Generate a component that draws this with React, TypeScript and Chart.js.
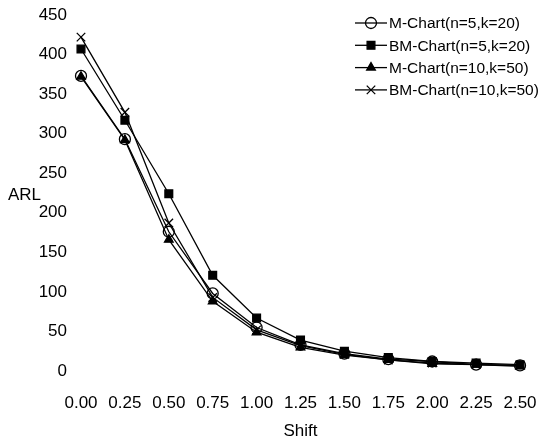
import { useEffect, useRef } from "react";
import { Chart, registerables } from "chart.js";
import { drawPoint } from "chart.js/helpers";

Chart.register(...registerables);

const shifts = [0, 0.25, 0.5, 0.75, 1.0, 1.25, 1.5, 1.75, 2.0, 2.25, 2.5];
const xTickLabels = ["0.00", "0.25", "0.50", "0.75", "1.00", "1.25", "1.50", "1.75", "2.00", "2.25", "2.50"];
const yTicks = [0, 50, 100, 150, 200, 250, 300, 350, 400, 450];

const seriesNames = [
  "M-Chart(n=5,k=20)",
  "BM-Chart(n=5,k=20)",
  "M-Chart(n=10,k=50)",
  "BM-Chart(n=10,k=50)",
];
const mChartN5 = [373, 293, 176, 98, 55, 33, 22, 15, 12, 8, 7];
const bmChartN5 = [407, 317, 224, 121, 67, 39, 25, 17, 12, 10, 8];
const mChartN10 = [372, 292, 166, 88, 49, 30, 20, 14, 9, 8, 6];
const bmChartN10 = [422, 327, 187, 93, 52, 32, 21, 14, 10, 8, 7];

const FONT = "'Liberation Sans', Arial, sans-serif";

const styles = [
  { pointStyle: "circle", radius: 5.5, fill: "rgba(0,0,0,0)" },
  { pointStyle: "rect", radius: 5.5, fill: "#000" },
  { pointStyle: "triangle", radius: 5, fill: "#000" },
  { pointStyle: "crossRot", radius: 6, fill: "#000" },
];

const extrasPlugin = {
  id: "extras",
  afterDraw(chart: any) {
    const ctx = chart.ctx as CanvasRenderingContext2D;
    const area = chart.chartArea;
    ctx.save();
    ctx.fillStyle = "#000";
    ctx.font = `17px ${FONT}`;
    ctx.textAlign = "left";
    ctx.textBaseline = "middle";
    ctx.fillText("ARL", 8, (area.top + area.bottom) / 2 + 2);

    // legend
    const lx0 = 355;
    const lx1 = 387;
    const ly0 = 23;
    const dy = 22.3;
    chart.data.datasets.forEach((ds: any, i: number) => {
      const y = ly0 + i * dy;
      ctx.strokeStyle = "#000";
      ctx.lineWidth = 1.3;
      ctx.beginPath();
      ctx.moveTo(lx0, y);
      ctx.lineTo(lx1, y);
      ctx.stroke();
      ctx.fillStyle = ds.pointBackgroundColor;
      ctx.strokeStyle = "#000";
      ctx.lineWidth = ds.pointBorderWidth;
      drawPoint(ctx, {
        pointStyle: ds.pointStyle,
        radius: ds.pointRadius,
        rotation: 0,
        borderWidth: ds.pointBorderWidth,
      } as any, (lx0 + lx1) / 2, y);
      ctx.fillStyle = "#000";
      ctx.font = `15.5px ${FONT}`;
      ctx.fillText(ds.label, 389, y + 1);
    });
    ctx.restore();
  },
};

export default function App() {
  const ref = useRef<HTMLCanvasElement | null>(null);
  useEffect(() => {
    if (!ref.current) return;
    const seriesData = [mChartN5, bmChartN5, mChartN10, bmChartN10];
    const chart = new Chart(ref.current, {
      type: "line",
      data: {
        datasets: seriesData.map((vals, i) => ({
          label: seriesNames[i],
          data: shifts.map((x, j) => ({ x, y: vals[j] })),
          borderColor: "#000",
          borderWidth: 1.3,
          pointStyle: styles[i].pointStyle as any,
          pointRadius: styles[i].radius,
          pointBackgroundColor: styles[i].fill,
          pointBorderColor: "#000",
          pointBorderWidth: 1.3,
          clip: false as any,
          tension: 0,
          fill: false,
        })),
      },
      options: {
        responsive: false,
        maintainAspectRatio: false,
        animation: false,
        devicePixelRatio: 1,
        layout: { padding: { top: 15, right: 21, bottom: 0, left: 0 } },
        plugins: {
          legend: { display: false },
          tooltip: { enabled: false },
        },
        scales: {
          x: {
            type: "linear",
            min: 0,
            max: 2.5,
            grid: { display: false, drawTicks: false },
            border: { display: false },
            afterBuildTicks: (scale: any) => {
              scale.ticks = shifts.map((v) => ({ value: v }));
            },
            afterFit: (scale: any) => {
              scale.height = 72;
              scale.paddingLeft = 0;
              scale.paddingRight = 0;
            },
            ticks: {
              color: "#000",
              font: { family: FONT, size: 17 },
              padding: 22,
              maxRotation: 0,
              autoSkip: false,
              callback: (_v: any, idx: number) => xTickLabels[idx],
            },
            title: {
              display: true,
              text: "Shift",
              color: "#000",
              font: { family: FONT, size: 17 },
              padding: { top: 0, bottom: 1 },
            },
          },
          y: {
            type: "linear",
            min: 0,
            max: 450,
            grid: { display: false, drawTicks: false },
            border: { display: false },
            afterBuildTicks: (scale: any) => {
              scale.ticks = yTicks.map((v) => ({ value: v }));
            },
            afterFit: (scale: any) => {
              scale.width = 81;
              scale.paddingTop = 0;
              scale.paddingBottom = 0;
            },
            ticks: {
              color: "#000",
              font: { family: FONT, size: 17 },
              padding: 14,
              callback: (v: any) => String(v),
            },
          },
        },
      },
      plugins: [extrasPlugin],
    });
    return () => chart.destroy();
  }, []);
  return (
    <div style={{ position: "fixed", left: 0, top: 0, width: 541, height: 443, background: "#fff" }}>
      <canvas ref={ref} width={541} height={443} style={{ display: "block" }} />
    </div>
  );
}
